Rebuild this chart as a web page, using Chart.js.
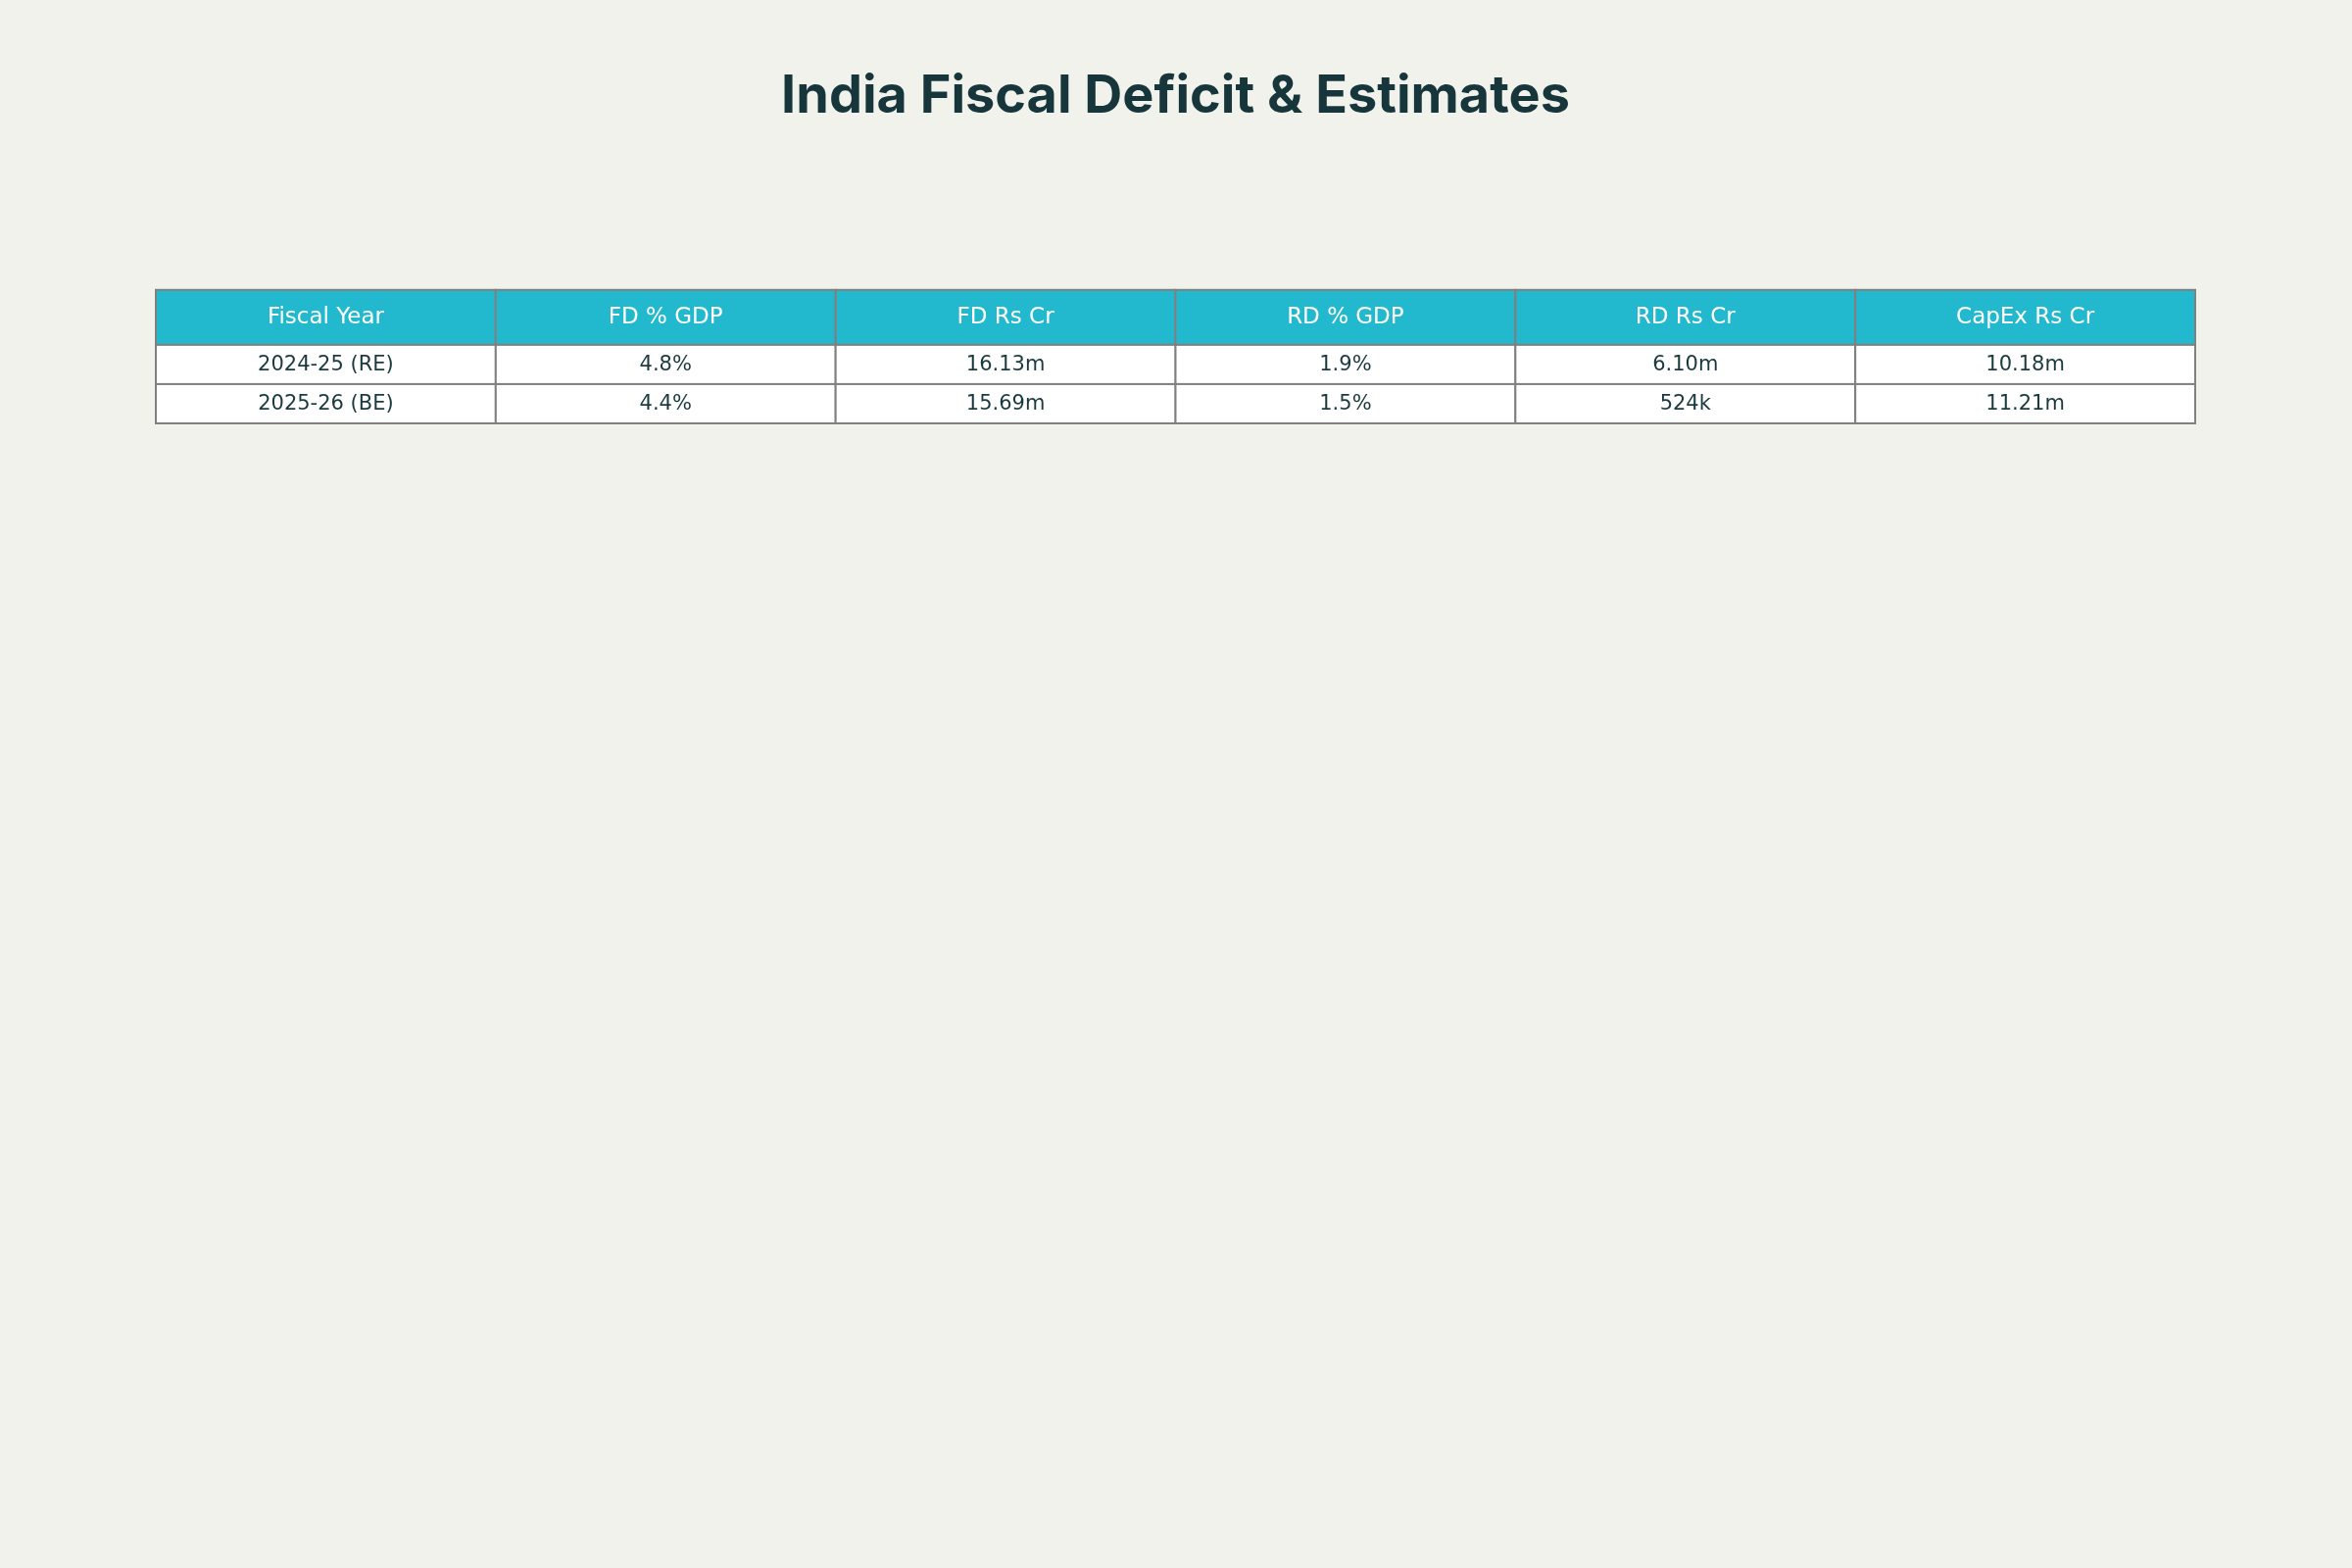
<!DOCTYPE html>
<html><head><meta charset="utf-8">
<script src="https://cdn.jsdelivr.net/npm/chart.js@4/dist/chart.umd.min.js"></script>
<style>html,body{margin:0;padding:0;background:#f2f2ec;}canvas{display:block;}</style>
</head><body>
<div style="width:2400px;height:1600px;"><canvas id="c" width="2400" height="1600"></canvas></div>
<script>
const columns = ["Fiscal Year","FD % GDP","FD Rs Cr","RD % GDP","RD Rs Cr","CapEx Rs Cr"];
const fiscalYears = ["2024-25 (RE)","2025-26 (BE)"];
const fdPctGdp = ["4.8%","4.4%"];
const fdRsCr = ["16.13m","15.69m"];
const rdPctGdp = ["1.9%","1.5%"];
const rdRsCr = ["6.10m","524k"];
const capexRsCr = ["10.18m","11.21m"];
const rows = fiscalYears.map((y,i)=>[y,fdPctGdp[i],fdRsCr[i],rdPctGdp[i],rdRsCr[i],capexRsCr[i]]);

const tablePlugin = {
  id:'tablePlugin',
  beforeDraw(chart){
    const ctx=chart.ctx; ctx.save();
    ctx.fillStyle='#f2f2ec'; ctx.fillRect(0,0,chart.width,chart.height); ctx.restore();
  },
  afterDraw(chart){
    const ctx=chart.ctx, xs=chart.scales.x, ys=chart.scales.y;
    ctx.save();
    // row boundaries: header 0..1.4, rows 1.4..2.4, 2.4..3.4 (in y units)
    const bounds=[0,1.4,2.4,3.4];
    for(let r=0;r<3;r++){
      const y0=ys.getPixelForValue(bounds[r]), y1=ys.getPixelForValue(bounds[r+1]);
      for(let c=0;c<columns.length;c++){
        const x0=xs.getPixelForValue(c), x1=xs.getPixelForValue(c+1);
        ctx.fillStyle = r===0 ? '#22b8ce' : '#ffffff';
        ctx.fillRect(x0,y0,x1-x0,y1-y0);
        ctx.strokeStyle='#808080'; ctx.lineWidth=2;
        ctx.strokeRect(x0,y0,x1-x0,y1-y0);
        ctx.textAlign='center'; ctx.textBaseline='middle';
        if(r===0){ ctx.fillStyle='#ffffff'; ctx.font='23px "DejaVu Sans"'; ctx.fillText(columns[c],(x0+x1)/2,(y0+y1)/2); }
        else { ctx.fillStyle='#1a3a3f'; ctx.font='21px "DejaVu Sans"'; ctx.fillText(rows[r-1][c],(x0+x1)/2,(y0+y1)/2+1); }
      }
    }
    ctx.restore();
  }
};

new Chart(document.getElementById('c'),{
  type:'scatter',
  data:{datasets:[{data:[]}]},
  options:{
    responsive:false, animation:false, devicePixelRatio:1,
    layout:{padding:{left:159,right:160,top:0,bottom:1168}},
    plugins:{
      legend:{display:false}, tooltip:{enabled:false},
      title:{display:true,text:'India Fiscal Deficit & Estimates',color:'#17363b',
        font:{family:'Inter',size:54,weight:'bold',lineHeight:1.2},padding:{top:66,bottom:165}}
    },
    scales:{
      x:{type:'linear',min:0,max:6,display:false},
      y:{type:'linear',min:0,max:3.4,reverse:true,display:false}
    }
  },
  plugins:[tablePlugin]
});
</script>
</body></html>
